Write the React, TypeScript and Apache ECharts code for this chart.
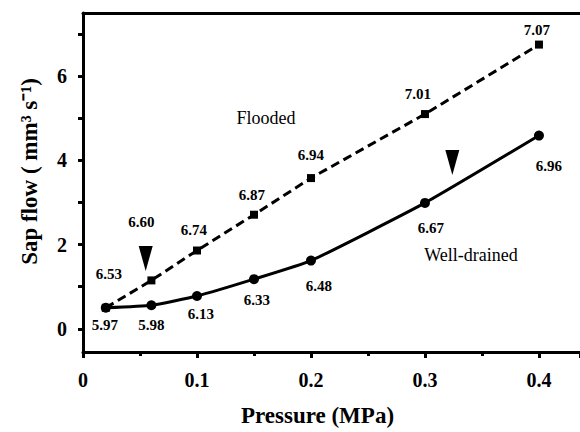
import React, { useEffect, useRef } from "react";
import * as echarts from "echarts";

const pressure = [0.02, 0.06, 0.1, 0.15, 0.2, 0.3, 0.4];
const floodedFlow = [0.5, 1.15, 1.86, 2.71, 3.58, 5.1, 6.75];
const drainedFlow = [0.5, 0.56, 0.78, 1.18, 1.62, 2.99, 4.59];
const floodedLabels = ["6.53", "6.60", "6.74", "6.87", "6.94", "7.01", "7.07"];
const drainedLabels = ["5.97", "5.98", "6.13", "6.33", "6.48", "6.67", "6.96"];
const arrowX = [0.055, 0.324];
const arrowY = [1.67, 3.95];
const yTickValues = [0, 2, 4, 6];
const yAllTickValues = [0, 1, 2, 3, 4, 5, 6, 7];

// label offsets (styling only)
const floodedOffsets = [[3, -34], [-10, -58], [-3, -21], [-2, -20], [0, -23], [-7, -20], [-2, -15]];
const drainedOffsets = [[-1, 17], [0, 20], [4, 18], [3, 21], [8, 25], [6, 25], [10, 30]];

const SERIF = "Liberation Serif";

export default function App() {
  const ref = useRef<HTMLDivElement>(null);
  useEffect(() => {
    if (!ref.current) return;
    const chart = echarts.init(ref.current, null, { renderer: "svg" });
    const labelStyle = {
      show: true,
      position: "inside",
      fontFamily: SERIF,
      fontWeight: "bold",
      fontSize: 15,
      color: "#000",
    };
    chart.setOption({
      animation: false,
      backgroundColor: "#fff",
      textStyle: { fontFamily: SERIF },
      grid: { left: 83, right: -3, top: 13, bottom: 77 },
      xAxis: [
        {
          type: "value",
          min: 0,
          max: 0.436,
          interval: 0.1,
          position: "bottom",
          splitLine: { show: false },
          axisLine: { show: true, onZero: false, lineStyle: { color: "#000", width: 3 } },
          axisTick: { show: true, length: 6, lineStyle: { color: "#000", width: 3 } },
          minorTick: { show: true, splitNumber: 2, length: 4, lineStyle: { color: "#000", width: 3 } },
          axisLabel: {
            margin: 18,
            showMaxLabel: false,
            color: "#000",
            fontFamily: SERIF,
            fontWeight: "bold",
            fontSize: 20,
            formatter: (v: number) => (v === 0 ? "0" : String(Math.round(v * 10) / 10)),
          },
          name: "Pressure (MPa)",
          nameLocation: "middle",
          nameGap: 52,
          nameTextStyle: {
            color: "#000",
            fontFamily: SERIF,
            fontWeight: "bold",
            fontSize: 23,
            padding: [0, 28, 0, 0],
          },
        },
        {
          type: "value",
          min: 0,
          max: 0.436,
          position: "top",
          splitLine: { show: false },
          axisLine: { show: true, onZero: false, lineStyle: { color: "#000", width: 3 } },
          axisTick: { show: false },
          axisLabel: { show: false },
        },
      ],
      yAxis: [
        {
          type: "value",
          min: -0.55,
          max: 7.5,
          position: "left",
          splitLine: { show: false },
          axisLine: { show: true, onZero: false, lineStyle: { color: "#000", width: 3 } },
          axisTick: {
            show: true,
            length: 5,
            customValues: yAllTickValues,
            lineStyle: { color: "#000", width: 3 },
          },
          axisLabel: {
            margin: 16,
            customValues: yTickValues,
            color: "#000",
            fontFamily: SERIF,
            fontWeight: "bold",
            fontSize: 20,
          },
          name: "Sap flow ( mm³ s⁻¹)",
          nameLocation: "middle",
          nameGap: 42,
          nameTextStyle: {
            color: "#000",
            fontFamily: SERIF,
            fontWeight: "bold",
            fontSize: 23,
            padding: [0, 0, 0, 22],
          },
        },
      ],
      series: [
        {
          type: "line",
          name: "Flooded",
          data: pressure.map((x, i) => ({
            value: [x, floodedFlow[i]],
            label: { ...labelStyle, offset: floodedOffsets[i], formatter: floodedLabels[i] },
          })),
          symbol: "rect",
          symbolSize: 8,
          itemStyle: { color: "#000" },
          lineStyle: { color: "#000", width: 3, type: [9, 5] },
          z: 3,
        },
        {
          type: "line",
          name: "Well-drained",
          data: pressure.map((x, i) => ({
            value: [x, drainedFlow[i]],
            label: { ...labelStyle, offset: drainedOffsets[i], formatter: drainedLabels[i] },
          })),
          symbol: "circle",
          symbolSize: 10,
          smooth: 0.15,
          itemStyle: { color: "#000" },
          lineStyle: { color: "#000", width: 3 },
          z: 4,
        },
        {
          type: "scatter",
          name: "arrows",
          data: arrowX.map((x, i) => [x, arrowY[i]]),
          symbol: "triangle",
          symbolRotate: 180,
          symbolSize: [14, 25],
          itemStyle: { color: "#000", opacity: 1 },
          silent: true,
        },
      ],
      graphic: [
        {
          type: "text",
          x: 266,
          y: 118,
          style: {
            text: "Flooded",
            fill: "#000",
            fontFamily: SERIF,
            fontSize: 18,
            align: "center",
            verticalAlign: "middle",
          },
        },
        {
          type: "text",
          x: 471,
          y: 255,
          style: {
            text: "Well-drained",
            fill: "#000",
            fontFamily: SERIF,
            fontSize: 18,
            align: "center",
            verticalAlign: "middle",
          },
        },
      ],
    });
    return () => chart.dispose();
  }, []);
  return (
    <div style={{ position: "absolute", left: 0, top: 0, width: 580, height: 432, overflow: "hidden" }}>
      <div ref={ref} style={{ width: 580, height: 432, background: "#fff" }} />
    </div>
  );
}
